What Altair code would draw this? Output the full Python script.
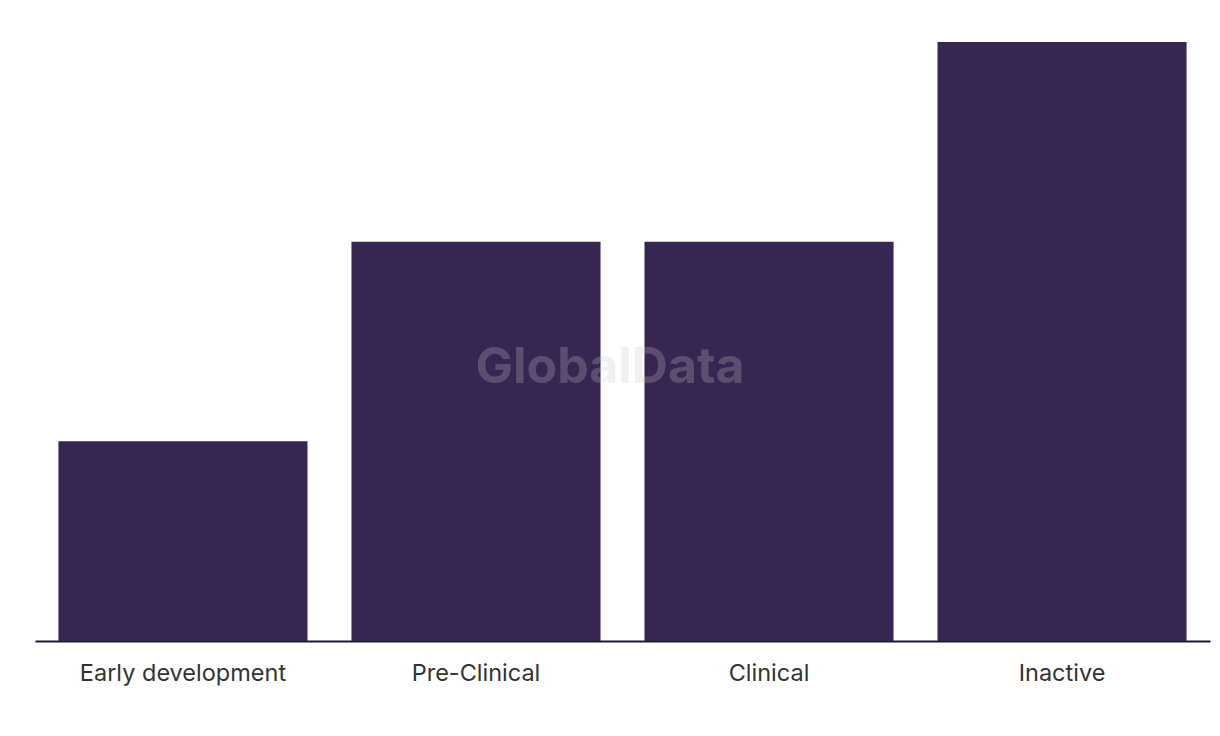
import altair as alt
import pandas as pd

categories = ["Early development", "Pre-Clinical", "Clinical", "Inactive"]
values = [1, 2, 2, 3]

df = pd.DataFrame({"stage": categories, "count": values})

bars = alt.Chart(df).mark_bar(color="#372552").encode(
    x=alt.X("stage:N", sort=categories, title=None,
            scale=alt.Scale(paddingInner=0.15, paddingOuter=0.08),
            axis=alt.Axis(labelAngle=0, labelFont="Inter", labelFontSize=23.5,
                          labelColor="#333333", labelPadding=20, ticks=False,
                          labelLimit=0,
                          domainColor="#1a1a2e", domainWidth=2)),
    y=alt.Y("count:Q", title=None, scale=alt.Scale(domain=[0, 3], nice=False),
            axis=None),
)

wm = alt.Chart(pd.DataFrame({"t": ["GlobalData"]})).mark_text(
    font="Inter", fontSize=50, fontWeight="bold", color="#c8c8c8", opacity=0.25
).encode(text="t:N", x=alt.value(575), y=alt.value(326))

chart = (bars + wm).properties(
    width=1175, height=599,
    autosize=alt.AutoSizeParams(type="none"),
    padding={"left": 35, "top": 42, "right": 10, "bottom": 95},
).configure_view(stroke=None)

chart.save("out.html", embed_options={"renderer": "svg", "actions": False})
